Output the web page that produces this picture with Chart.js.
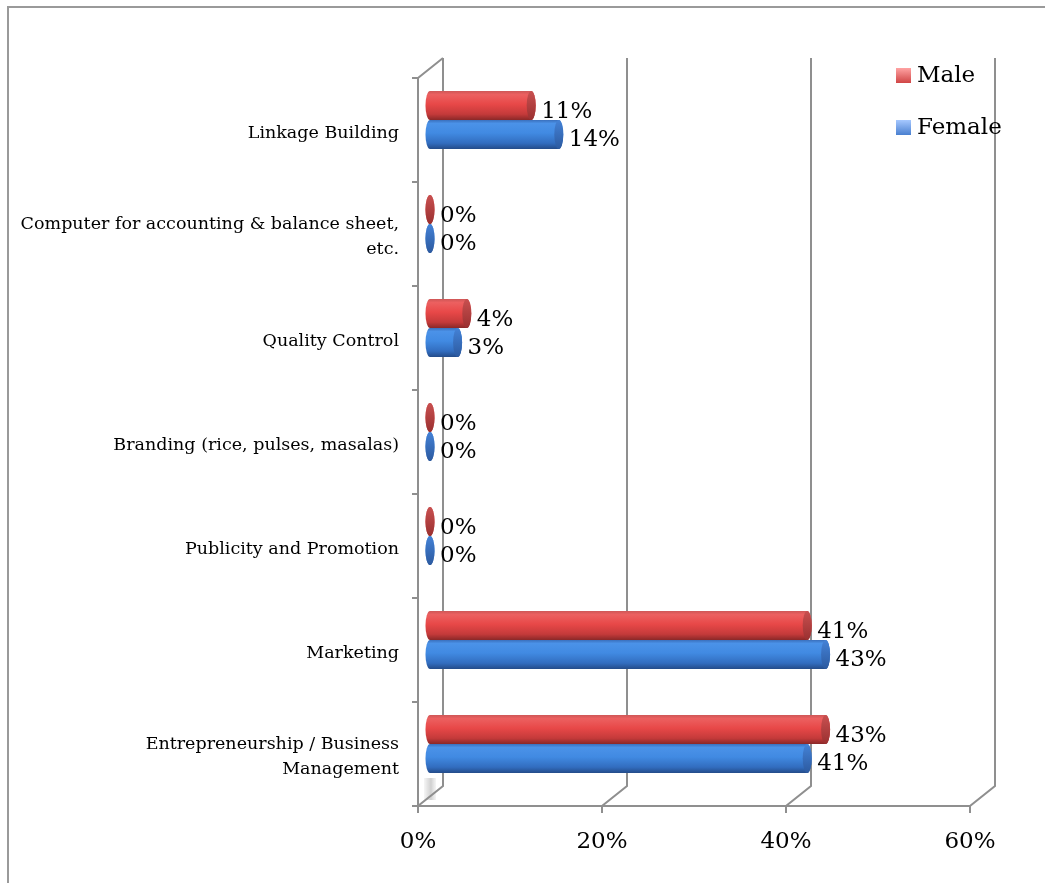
<!DOCTYPE html>
<html>
<head>
<meta charset="utf-8">
<script src="https://cdn.jsdelivr.net/npm/chart.js@4.4.1/dist/chart.umd.min.js"></script>
<style>
  html, body { margin: 0; padding: 0; background: #fff; }
  #wrap { width: 1045px; height: 883px; position: relative; }
</style>
</head>
<body>
<div id="wrap"><canvas id="c" width="1045" height="883"></canvas></div>
<script>
const categories = [
  'Linkage Building',
  ['Computer for accounting & balance sheet,', 'etc.'],
  'Quality Control',
  'Branding (rice, pulses, masalas)',
  'Publicity and Promotion',
  'Marketing',
  ['Entrepreneurship / Business', 'Management']
];
const seriesNames = ['Male', 'Female'];
const maleValues = [11, 0, 4, 0, 0, 41, 43];
const femaleValues = [14, 0, 3, 0, 0, 43, 41];
const xTickValues = [0, 20, 40, 60];

const palette = {
  Male: {
    body: [[0, '#cf5757'], [0.12, '#ec6060'], [0.45, '#e84848'], [0.8, '#c43a3a'], [1, '#8a2828']],
    cap: [[0, '#c85050'], [1, '#9a3030']],
    legend: [[0, '#ffa3a3'], [1, '#d04545']],
    solid: '#e84848'
  },
  Female: {
    body: [[0, '#3a70bd'], [0.12, '#4b92e8'], [0.45, '#418ae2'], [0.8, '#326dbf'], [1, '#244c8a']],
    cap: [[0, '#4482d6'], [1, '#2c5aa0']],
    legend: [[0, '#a6c8ff'], [1, '#4a80d0']],
    solid: '#418ae2'
  }
};

const SERIF = '"DejaVu Serif", serif';
const FRONT = { dx: -12, dy: 10 };
const BACK = { dx: 13, dy: -10 };

function grad(ctx, y0, y1, stops) {
  const g = ctx.createLinearGradient(0, y0, 0, y1);
  stops.forEach(s => g.addColorStop(s[0], s[1]));
  return g;
}

const wallsPlugin = {
  id: 'walls',
  beforeDatasetsDraw(chart) {
    const ctx = chart.ctx, xs = chart.scales.x, ys = chart.scales.y;
    const top = chart.chartArea.top, bot = chart.chartArea.bottom;
    const x0 = xs.getPixelForValue(0);
    ctx.save();
    // outer border
    ctx.strokeStyle = '#9a9a9a';
    ctx.lineWidth = 2;
    ctx.beginPath();
    ctx.moveTo(8, 883); ctx.lineTo(8, 7); ctx.lineTo(1045, 7);
    ctx.stroke();

    ctx.strokeStyle = '#8f8f8f';
    ctx.lineWidth = 2;
    ctx.lineCap = 'butt';
    // floor shadow at left
    const sg = ctx.createLinearGradient(x0 - 6, 0, x0 + 8, 0);
    sg.addColorStop(0, 'rgba(160,160,160,0.1)');
    sg.addColorStop(0.5, 'rgba(150,150,150,0.45)');
    sg.addColorStop(1, 'rgba(200,200,200,0.05)');
    ctx.fillStyle = sg;
    ctx.fillRect(x0 - 6, bot - 18, 12, 22);

    xTickValues.forEach(v => {
      const px = xs.getPixelForValue(v);
      ctx.beginPath();
      ctx.moveTo(px + BACK.dx, top + BACK.dy);
      ctx.lineTo(px + BACK.dx, bot + BACK.dy);
      ctx.lineTo(px + FRONT.dx, bot + FRONT.dy);
      ctx.lineTo(px + FRONT.dx, bot + FRONT.dy + 7);
      ctx.stroke();
    });
    // front bottom line
    ctx.beginPath();
    ctx.moveTo(x0 + FRONT.dx, bot + FRONT.dy);
    ctx.lineTo(xs.getPixelForValue(xTickValues[xTickValues.length - 1]) + FRONT.dx, bot + FRONT.dy);
    ctx.stroke();
    // front left line and top diagonal
    ctx.beginPath();
    ctx.moveTo(x0 + BACK.dx, top + BACK.dy);
    ctx.lineTo(x0 + FRONT.dx, top + FRONT.dy);
    ctx.lineTo(x0 + FRONT.dx, bot + FRONT.dy);
    ctx.stroke();
    // category boundary ticks
    for (let i = 0; i <= categories.length; i++) {
      const y = ys.getPixelForValue(i - 0.5) + FRONT.dy;
      ctx.beginPath();
      ctx.moveTo(x0 + FRONT.dx - 6, y);
      ctx.lineTo(x0 + FRONT.dx, y);
      ctx.stroke();
    }
    ctx.restore();
  }
};

const cylinderPlugin = {
  id: 'cylinders',
  afterDatasetsDraw(chart) {
    const ctx = chart.ctx;
    ctx.save();
    chart.data.datasets.forEach((ds, di) => {
      const meta = chart.getDatasetMeta(di);
      const pal = palette[ds.label];
      meta.data.forEach((bar, i) => {
        const p = bar.getProps(['x', 'y', 'base', 'height'], true);
        const ry = p.height / 2, rx = 4.5;
        const yc = p.y, xb = p.base, xe = p.x;
        // body
        ctx.beginPath();
        ctx.ellipse(xb, yc, rx, ry, 0, Math.PI / 2, Math.PI * 3 / 2);
        ctx.lineTo(xe, yc - ry);
        ctx.ellipse(xe, yc, rx, ry, 0, -Math.PI / 2, Math.PI / 2);
        ctx.closePath();
        ctx.fillStyle = grad(ctx, yc - ry, yc + ry, pal.body);
        ctx.fill();
        // end cap
        ctx.beginPath();
        ctx.ellipse(xe, yc, rx, ry, 0, 0, Math.PI * 2);
        ctx.fillStyle = grad(ctx, yc - ry, yc + ry, pal.cap);
        ctx.fill();
        // value label
        ctx.fillStyle = '#000';
        ctx.font = '23px ' + SERIF;
        ctx.textAlign = 'left';
        ctx.textBaseline = 'middle';
        ctx.fillText(ds.data[i] + '%', xe + 10, yc + 6);
      });
    });
    // legend
    const lx = 896;
    const ly = [68, 120];
    chart.data.datasets.forEach((ds, di) => {
      const pal = palette[ds.label];
      ctx.fillStyle = grad(ctx, ly[di], ly[di] + 15, pal.legend);
      ctx.fillRect(lx, ly[di], 15, 15);
      ctx.fillStyle = '#000';
      ctx.font = '23px ' + SERIF;
      ctx.textAlign = 'left';
      ctx.textBaseline = 'middle';
      ctx.fillText(ds.label, lx + 21, ly[di] + 8);
    });
    ctx.restore();
  }
};

new Chart(document.getElementById('c'), {
  type: 'bar',
  data: {
    labels: categories,
    datasets: [
      { label: seriesNames[0], data: maleValues, backgroundColor: palette.Male.solid },
      { label: seriesNames[1], data: femaleValues, backgroundColor: palette.Female.solid }
    ]
  },
  options: {
    indexAxis: 'y',
    responsive: false,
    devicePixelRatio: 1,
    animation: false,
    categoryPercentage: 0.556,
    barPercentage: 1.0,
    layout: { padding: { top: 68, right: 63, left: 0, bottom: 0 } },
    plugins: { legend: { display: false }, tooltip: { enabled: false } },
    scales: {
      x: {
        min: 0, max: 60,
        afterFit(scale) { scale.height = 87; },
        afterBuildTicks(scale) { scale.ticks = xTickValues.map(v => ({ value: v })); },
        grid: { display: false, drawTicks: false },
        border: { display: false },
        ticks: {
          color: '#000',
          font: { family: SERIF, size: 23 },
          padding: 32,
          labelOffset: -12,
          maxRotation: 0,
          callback: v => v + '%'
        }
      },
      y: {
        afterFit(scale) { scale.width = 430; },
        grid: { display: false, drawTicks: false },
        border: { display: false },
        ticks: {
          color: '#000',
          font: { family: SERIF, size: 17.5, lineHeight: 1.43 },
          padding: 31,
          labelOffset: 13,
          autoSkip: false
        }
      }
    }
  },
  plugins: [wallsPlugin, cylinderPlugin]
});
</script>
</body>
</html>
